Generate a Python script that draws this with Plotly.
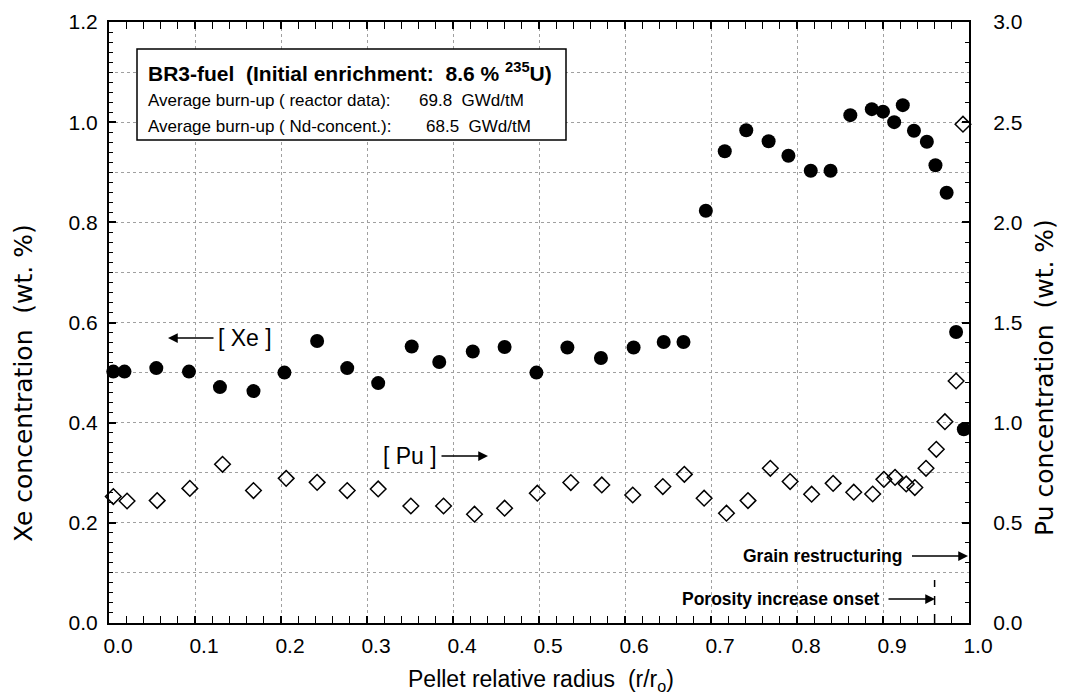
import plotly.graph_objects as go

# ---------------- data ----------------
xe_r = [0.005, 0.018, 0.055, 0.093, 0.129, 0.168, 0.204, 0.242, 0.277, 0.313,
        0.352, 0.384, 0.423, 0.460, 0.497, 0.533, 0.572, 0.610, 0.645, 0.668,
        0.694, 0.716, 0.741, 0.767, 0.790, 0.816, 0.839, 0.862, 0.887, 0.900,
        0.913, 0.923, 0.936, 0.951, 0.961, 0.974, 0.985, 0.994]
xe = [0.502, 0.502, 0.509, 0.502, 0.471, 0.463, 0.500, 0.563, 0.509, 0.479,
      0.552, 0.521, 0.542, 0.551, 0.500, 0.550, 0.529, 0.550, 0.561, 0.561,
      0.823, 0.942, 0.984, 0.962, 0.933, 0.903, 0.903, 1.014, 1.026, 1.021,
      1.000, 1.034, 0.983, 0.961, 0.914, 0.859, 0.581, 0.387]

pu_r = [0.005, 0.021, 0.056, 0.094, 0.132, 0.168, 0.206, 0.242, 0.277, 0.313,
        0.351, 0.389, 0.425, 0.460, 0.498, 0.537, 0.573, 0.609, 0.644, 0.669,
        0.692, 0.718, 0.743, 0.769, 0.792, 0.817, 0.842, 0.866, 0.888, 0.901,
        0.914, 0.927, 0.937, 0.950, 0.962, 0.972, 0.985, 0.993]
pu = [0.631, 0.609, 0.611, 0.672, 0.792, 0.661, 0.722, 0.702, 0.661, 0.669,
      0.584, 0.584, 0.543, 0.573, 0.648, 0.701, 0.689, 0.639, 0.681, 0.742,
      0.623, 0.548, 0.611, 0.772, 0.706, 0.643, 0.697, 0.653, 0.644, 0.717,
      0.727, 0.694, 0.676, 0.772, 0.867, 1.005, 1.208, 2.49]

x_ticks = [0.0, 0.1, 0.2, 0.3, 0.4, 0.5, 0.6, 0.7, 0.8, 0.9, 1.0]
x_labels = ["0.0", "0.1", "0.2", "0.3", "0.4", "0.5", "0.6", "0.7", "0.8", "0.9", "1.0"]
xe_ticks = [0.0, 0.2, 0.4, 0.6, 0.8, 1.0, 1.2]
xe_labels = ["0.0", "0.2", "0.4", "0.6", "0.8", "1.0", "1.2"]
pu_ticks = [0.0, 0.5, 1.0, 1.5, 2.0, 2.5, 3.0]
pu_labels = ["0.0", "0.5", "1.0", "1.5", "2.0", "2.5", "3.0"]

porosity_onset = 0.96

x_title = "Pellet relative radius  (r/r<sub>o</sub>)"
xe_title = "Xe concentration  (wt. %)"
pu_title = "Pu concentration  (wt. %)"
title_line = "<b>BR3-fuel  (Initial enrichment:  8.6 % <sup>235</sup>U)</b>"
info_labels = ["Average burn-up ( reactor data):", "Average burn-up ( Nd-concent.):"]
info_values = ["69.8  GWd/tM", "68.5  GWd/tM"]

# ---------------- layout helpers ----------------
# the page body adds an 8 px offset; the figure is sized so the plot area
# lands at page pixels x 109..969, y 22..623
OFF = 8
FW, FH = 1067 - OFF, 697 - OFF
PL, PR, PT, PB = 109, 969, 22, 623          # plot area in page pixels
L, R, T, B = PL - OFF, (OFF + FW) - PR, PT - OFF, (OFF + FH) - PB
PW, PH = PR - PL, PB - PT

def px(xp):
    return (xp - PL) / PW

def py(yp):
    return (PB - yp) / PH

FONT = "Liberation Sans, Arial, sans-serif"
WIDE = "DejaVu Sans, Liberation Sans, sans-serif"

fig = go.Figure()
fig.add_trace(go.Scatter(x=xe_r, y=xe, mode="markers", name="Xe",
                         marker=dict(symbol="circle", size=14, color="black"),
                         yaxis="y", cliponaxis=False))
fig.add_trace(go.Scatter(x=pu_r, y=pu, mode="markers", name="Pu",
                         marker=dict(symbol="diamond-open", size=12, color="black",
                                     line=dict(width=1.5, color="black")),
                         yaxis="y2", cliponaxis=False))

axis_common = dict(showline=True, linecolor="black", linewidth=2, automargin=False,
                   ticks="inside", ticklen=7, tickwidth=1.5, tickcolor="black",
                   zeroline=False, tickfont=dict(family=FONT, size=21, color="black"))
grid_style = dict(gridcolor="#a0a0a0", griddash="dot", gridwidth=1)

fig.update_layout(
    width=FW, height=FH,
    margin=dict(l=L, r=R, t=T, b=B),
    paper_bgcolor="white", plot_bgcolor="white",
    showlegend=False,
    font=dict(family=FONT, color="black"),
    xaxis=dict(range=[0, 1], tickmode="array", tickvals=x_ticks, ticktext=x_labels,
               mirror="allticks", showgrid=True, ticklabelshift=9, ticklabelstandoff=3,
               minor=dict(dtick=0.02, ticks="inside", ticklen=4, tickwidth=1.2,
                          tickcolor="black", showgrid=False),
               **grid_style, **axis_common),
    yaxis=dict(range=[0, 1.2], tickmode="array", tickvals=xe_ticks, ticktext=xe_labels,
               showgrid=False, ticklabelstandoff=5,
               minor=dict(dtick=0.02, ticks="inside", ticklen=4, tickwidth=1.2,
                          tickcolor="black", showgrid=False),
               **axis_common),
    yaxis2=dict(range=[0, 3.0], tickmode="array", tickvals=pu_ticks, ticktext=pu_labels,
                overlaying="y", side="right", showgrid=False, ticklabelstandoff=18,
                minor=dict(dtick=0.1, ticks="inside", ticklen=4, tickwidth=1.2,
                           tickcolor="black", showgrid=False),
                **axis_common),
    # grid-only axis: dotted horizontal grid every 0.1 wt.% Xe
    yaxis3=dict(range=[0, 1.2], overlaying="y", dtick=0.1, tick0=0, showgrid=True,
                showticklabels=False, ticks="", showline=False, zeroline=False,
                automargin=False, layer="below traces", **grid_style),
)
fig.add_trace(go.Scatter(x=[None], y=[None], yaxis="y3", showlegend=False,
                         hoverinfo="skip"))

shapes = []
shapes.append(dict(type="rect", xref="paper", yref="paper",
                   x0=px(137), x1=px(566), y0=py(140), y1=py(49),
                   line=dict(color="black", width=1.5), fillcolor="white", layer="above"))
shapes.append(dict(type="line", xref="x", yref="y", x0=porosity_onset, x1=porosity_onset,
                   y0=0, y1=0.086, line=dict(color="black", width=1.5, dash="dash")))
fig.update_layout(shapes=shapes)

ann = []
centered = dict(xref="paper", yref="paper", xanchor="center", yanchor="middle",
                showarrow=False)
# axis titles
ann.append(dict(x=px(541), y=py(680), text=x_title,
                font=dict(family=FONT, size=23, color="black"), **centered))
ann.append(dict(x=px(23), y=py(383), text=xe_title, textangle=-90,
                font=dict(family=WIDE, size=25, color="black"), **centered))
ann.append(dict(x=px(1045), y=py(378), text=pu_title, textangle=-90,
                font=dict(family=WIDE, size=25, color="black"), **centered))

# info box text
ann.append(dict(xref="paper", yref="paper", x=px(146), y=py(72), xanchor="left",
                yanchor="middle", text=title_line, showarrow=False,
                font=dict(family=FONT, size=21, color="black")))
for i, (lab, val) in enumerate(zip(info_labels, info_values)):
    yy = [100, 127][i]
    xv = [417, 424][i]
    ann.append(dict(xref="paper", yref="paper", x=px(146), y=py(yy), xanchor="left",
                    yanchor="middle", text=lab, showarrow=False,
                    font=dict(family=FONT, size=17, color="black")))
    ann.append(dict(xref="paper", yref="paper", x=px(xv), y=py(yy), xanchor="left",
                    yanchor="middle", text=val, showarrow=False,
                    font=dict(family=FONT, size=17, color="black")))

arrow_style = dict(showarrow=True, arrowhead=2, arrowsize=1.5, arrowwidth=1.3,
                   arrowcolor="black", xref="paper", yref="paper",
                   xanchor="center", yanchor="middle")
ann.append(dict(x=px(168), y=py(338), ax=77, ay=0, text="[ Xe ]", borderpad=4,
                font=dict(family=FONT, size=23, color="black"), **arrow_style))
ann.append(dict(x=px(488), y=py(456), ax=-78, ay=0, text="[ Pu ]", borderpad=4,
                font=dict(family=FONT, size=23, color="black"), **arrow_style))
ann.append(dict(x=px(968), y=py(556), ax=-146, ay=0, text="<b>Grain restructuring</b>",
                borderpad=10, font=dict(family=FONT, size=17.5, color="black"),
                **arrow_style))
ann.append(dict(x=px(935), y=py(599), ax=-154, ay=0,
                text="<b>Porosity increase onset</b>", borderpad=8,
                font=dict(family=FONT, size=17.5, color="black"), **arrow_style))
fig.update_layout(annotations=ann)

fig.write_html("out.html")
